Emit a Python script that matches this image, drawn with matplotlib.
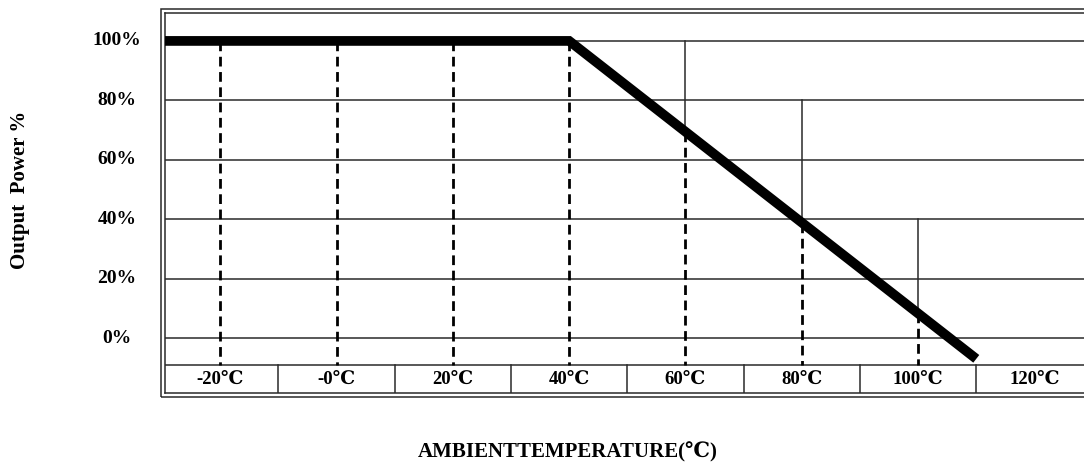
import numpy as np
import matplotlib
matplotlib.use("Agg")
import matplotlib.pyplot as plt
from matplotlib.patches import Rectangle
from matplotlib.transforms import blended_transform_factory

# data
temps = [-20, 0, 20, 40, 60, 80, 100, 120]
temp_labels = ["-20℃", "-0℃", "20℃", "40℃", "60℃", "80℃", "100℃", "120℃"]
power_ticks = [0, 20, 40, 60, 80, 100]
power_labels = ["0%", "20%", "40%", "60%", "80%", "100%"]
curve_t = [-30, 40, 110]
curve_p = [100, 100, -7]
# solid grid stubs above the curve: temperature -> top value
solid_t = [60, 80, 100]
solid_top = [100, 80, 40]
row_split = -9  # line that separates the label row

fonts = ["Liberation Serif", "DejaVu Serif", "Noto Sans CJK SC"]
line_col = "#2a2a2a"

fig = plt.figure(figsize=(10.84, 4.66), dpi=100)
W, H = 1084, 466
ax = fig.add_axes([165 / W, (H - 393) / H, (1092 - 165) / W, (393 - 13) / H])
ax.set_xlim(-29.5, 129.9)
ax.set_ylim(-18.5, 109.4)
ax.set_xticks([])
ax.set_yticks([])
for s in ax.spines.values():
    s.set_linewidth(1.1)
    s.set_color(line_col)

# horizontal grid
for p in power_ticks:
    ax.axhline(p, color=line_col, lw=1.1, zorder=1)
ax.axhline(row_split, color=line_col, lw=1.1, zorder=1)

# cell separators in the label row
for t in temps[:-1]:
    ax.plot([t + 10, t + 10], [-18.5, row_split], color=line_col, lw=1.1, zorder=1)

# solid grid stubs down to the curve
for t, top in zip(solid_t, solid_top):
    ax.plot([t, t], [top, np.interp(t, curve_t, curve_p)], color=line_col, lw=1.1, zorder=1)

# dashed drop lines
for t in temps[:-1]:
    top = min(100, np.interp(t, curve_t, curve_p))
    ax.plot([t, t], [top, row_split], color="black", lw=2.0,
            linestyle=(0, (3.5, 2.0)), zorder=2)

# derating curve
ax.plot(curve_t, curve_p, color="black", lw=7, solid_capstyle="butt",
        solid_joinstyle="miter", zorder=3)

# temperature labels in the bottom row
for t, lab in zip(temps, temp_labels):
    ax.text(t, -13.8, lab, ha="center", va="center", fontsize=13.5,
            fontweight="bold", family=fonts)

# power labels left of the frame
tr = blended_transform_factory(fig.transFigure, ax.transData)
for p, lab in zip(power_ticks, power_labels):
    ax.text(117 / W, p, lab, transform=tr, ha="center", va="center",
            fontsize=14, fontweight="bold", family=fonts, clip_on=False)

# outer line of the double frame
fig.add_artist(Rectangle((161 / W, (H - 397) / H), (1100 - 161) / W, (397 - 9) / H,
                         transform=fig.transFigure, fill=False,
                         edgecolor=line_col, lw=1.1))

fig.text(20 / W, 1 - 190 / H, "Output  Power %", rotation=90, ha="center",
         va="center", fontsize=15, fontweight="bold", family=fonts)
fig.text(568 / W, 1 - 452 / H, "AMBIENTTEMPERATURE(℃)", ha="center",
         va="center", fontsize=15, fontweight="bold", family=fonts)

fig.savefig("out.png", dpi=100)
